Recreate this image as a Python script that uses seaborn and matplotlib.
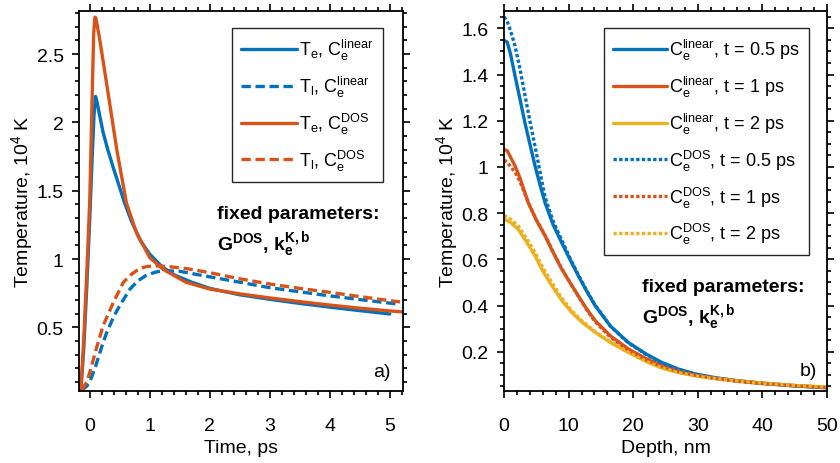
import numpy as np
import pandas as pd
import matplotlib
matplotlib.use("Agg")
import matplotlib.pyplot as plt
from matplotlib.ticker import MultipleLocator
import seaborn as sns

# ---------------- data: panel a) (time, ps ; temperature, 1e4 K) ----------------
t_te_lin = [-0.15, -0.1, -0.05, 0.0, 0.04, 0.07, 0.095, 0.12, 0.16, 0.22, 0.3, 0.39, 0.5, 0.58,
            0.7, 0.85, 1.0, 1.2, 1.4, 1.7, 2.0, 2.5, 3.0, 3.5, 4.0, 4.5, 5.0]
T_te_lin = [0.03, 0.35, 0.8, 1.3, 1.75, 2.05, 2.19, 2.15, 2.06, 1.93, 1.80, 1.67, 1.52, 1.41,
            1.27, 1.13, 1.035, 0.945, 0.885, 0.83, 0.785, 0.738, 0.705, 0.675, 0.648, 0.622, 0.598]

t_tl_lin = [-0.14, -0.05, 0.0, 0.1, 0.2, 0.28, 0.4, 0.5, 0.67, 0.8, 0.94, 1.1, 1.25, 1.5,
            1.89, 2.5, 3.0, 3.5, 4.0, 4.5, 5.1]
T_tl_lin = [0.04, 0.07, 0.1, 0.22, 0.36, 0.46, 0.58, 0.66, 0.78, 0.84, 0.88, 0.905, 0.915, 0.91,
            0.878, 0.83, 0.79, 0.76, 0.73, 0.703, 0.672]

t_te_dos = [-0.15, -0.1, -0.05, 0.0, 0.04, 0.065, 0.085, 0.1, 0.12, 0.16, 0.2, 0.31, 0.45, 0.61,
            0.78, 1.0, 1.22, 1.6, 2.0, 2.5, 3.0, 3.5, 4.0, 4.5, 5.0, 5.2]
T_te_dos = [0.03, 0.42, 0.9, 1.44, 2.2, 2.65, 2.77, 2.765, 2.72, 2.62, 2.51, 2.2, 1.8, 1.41,
            1.19, 1.01, 0.925, 0.83, 0.78, 0.745, 0.715, 0.688, 0.663, 0.64, 0.62, 0.613]

t_tl_dos = [-0.14, -0.05, 0.0, 0.1, 0.22, 0.39, 0.56, 0.7, 0.83, 0.95, 1.11, 1.3, 1.61, 2.0,
            2.5, 3.0, 3.5, 4.0, 4.5, 5.0, 5.2]
T_tl_dos = [0.04, 0.1, 0.17, 0.33, 0.51, 0.68, 0.83, 0.89, 0.93, 0.945, 0.95, 0.945, 0.93, 0.90,
            0.855, 0.817, 0.785, 0.756, 0.725, 0.695, 0.685]

# ---------------- data: panel b) (depth, nm ; temperature, 1e4 K) ----------------
d_lin_05 = [0, 0.5, 1, 1.7, 2.5, 3.25, 4, 4.8, 5.6, 6.35, 7.6, 8.93, 10.2, 11.5, 12.8, 14.1,
            16.5, 19.25, 22, 24.4, 27, 29.6, 33, 36, 40, 45, 50]
T_lin_05 = [1.548, 1.54, 1.49, 1.395, 1.29, 1.19, 1.10, 1.005, 0.92, 0.845, 0.75, 0.672, 0.60,
            0.529, 0.462, 0.40, 0.31, 0.24, 0.19, 0.154, 0.125, 0.104, 0.086, 0.075, 0.064,
            0.053, 0.045]

d_lin_1 = [0, 0.5, 1.7, 2.5, 3.76, 5, 6.35, 7.6, 8.93, 10.2, 11.5, 12.8, 14.1, 16.5, 19.25, 22,
           24.4, 27, 29.6, 33, 36, 40, 45, 50]
T_lin_1 = [1.075, 1.07, 1.005, 0.95, 0.845, 0.77, 0.702, 0.63, 0.558, 0.50, 0.442, 0.385, 0.335,
           0.268, 0.212, 0.17, 0.14, 0.118, 0.1, 0.085, 0.074, 0.063, 0.053, 0.045]

d_lin_2 = [0, 1, 2.2, 3.5, 4.8, 6, 7.4, 9, 10.5, 12, 14.1, 16.5, 19.25, 22, 24.4, 27, 29.6, 33,
           36, 40, 45, 50]
T_lin_2 = [0.775, 0.76, 0.73, 0.675, 0.615, 0.55, 0.486, 0.42, 0.37, 0.33, 0.284, 0.24, 0.197,
           0.158, 0.13, 0.11, 0.096, 0.083, 0.074, 0.064, 0.054, 0.047]

d_dos_05 = [0, 0.5, 1, 1.7, 2.5, 3.25, 4, 4.8, 5.6, 6.35, 7.6, 8.93, 10.2, 11.5, 12.8, 14.1,
            16.5, 19.25, 22, 24.4, 27, 29.6, 33, 36, 40, 45, 50]
T_dos_05 = [1.65, 1.63, 1.59, 1.525, 1.42, 1.31, 1.20, 1.09, 0.975, 0.87, 0.765, 0.683, 0.607,
            0.533, 0.465, 0.402, 0.31, 0.238, 0.188, 0.152, 0.123, 0.102, 0.085, 0.074, 0.063,
            0.052, 0.044]

d_dos_1 = [0, 0.5, 1.7, 2.5, 3.76, 5, 6.35, 7.6, 8.93, 10.2, 11.5, 12.8, 14.1, 16.5, 19.25, 22,
           24.4, 27, 29.6, 33, 36, 40, 45, 50]
T_dos_1 = [1.03, 1.02, 0.977, 0.935, 0.845, 0.772, 0.705, 0.633, 0.56, 0.50, 0.44, 0.382, 0.33,
           0.262, 0.207, 0.165, 0.136, 0.115, 0.098, 0.083, 0.072, 0.062, 0.052, 0.044]

d_dos_2 = [0, 1, 2.2, 3.5, 4.8, 6, 7.4, 9, 10.5, 12, 14.1, 16.5, 19.25, 22, 24.4, 27, 29.6, 33,
           36, 40, 45, 50]
T_dos_2 = [0.79, 0.775, 0.745, 0.69, 0.63, 0.565, 0.50, 0.43, 0.378, 0.335, 0.287, 0.242, 0.198,
           0.158, 0.13, 0.11, 0.096, 0.083, 0.074, 0.064, 0.054, 0.047]

legend_a = [r"T$_\mathrm{e}$, C$_\mathrm{e}^\mathrm{linear}$",
            r"T$_\mathrm{l}$, C$_\mathrm{e}^\mathrm{linear}$",
            r"T$_\mathrm{e}$, C$_\mathrm{e}^\mathrm{DOS}$",
            r"T$_\mathrm{l}$, C$_\mathrm{e}^\mathrm{DOS}$"]
legend_b = [r"C$_\mathrm{e}^\mathrm{linear}$, t = 0.5 ps",
            r"C$_\mathrm{e}^\mathrm{linear}$, t = 1 ps",
            r"C$_\mathrm{e}^\mathrm{linear}$, t = 2 ps",
            r"C$_\mathrm{e}^\mathrm{DOS}$, t = 0.5 ps",
            r"C$_\mathrm{e}^\mathrm{DOS}$, t = 1 ps",
            r"C$_\mathrm{e}^\mathrm{DOS}$, t = 2 ps"]

BLUE, ORANGE, YELLOW = "#0072BD", "#D95319", "#EDB120"

sns.set_theme(style="ticks")
plt.rcParams.update({
    "font.family": ["Liberation Sans", "DejaVu Sans"],
    "mathtext.fontset": "custom",
    "mathtext.rm": "Liberation Sans",
    "mathtext.it": "Liberation Sans:italic",
    "mathtext.bf": "Liberation Sans:bold",
    "axes.edgecolor": "#000000",
    "axes.linewidth": 1.3,
    "xtick.color": "#000000",
    "ytick.color": "#000000",
    "text.color": "#000000",
    "axes.labelcolor": "#000000",
})

fig = plt.figure(figsize=(8.4, 4.64), dpi=100)
axA = fig.add_axes([79/840, 1-392/464, 324/840, 380/464])
axB = fig.add_axes([504/840, 1-392/464, 323/840, 380/464])

LW = 2.4
dash = (0, (2.8, 1.4))
dot = (0, (1.0, 0.7))

def line(ax, x, y, color, ls, label):
    df = pd.DataFrame({"x": x, "y": y})
    sns.lineplot(data=df, x="x", y="y", ax=ax, color=color, linestyle=ls, linewidth=LW,
                 label=label, sort=False, estimator=None)

line(axA, t_te_lin, T_te_lin, BLUE, "-", legend_a[0])
line(axA, t_tl_lin, T_tl_lin, BLUE, dash, legend_a[1])
line(axA, t_te_dos, T_te_dos, ORANGE, "-", legend_a[2])
line(axA, t_tl_dos, T_tl_dos, ORANGE, dash, legend_a[3])

line(axB, d_lin_05, T_lin_05, BLUE, "-", legend_b[0])
line(axB, d_lin_1, T_lin_1, ORANGE, "-", legend_b[1])
line(axB, d_lin_2, T_lin_2, YELLOW, "-", legend_b[2])
line(axB, d_dos_05, T_dos_05, BLUE, dot, legend_b[3])
line(axB, d_dos_1, T_dos_1, ORANGE, dot, legend_b[4])
line(axB, d_dos_2, T_dos_2, YELLOW, dot, legend_b[5])

FS = 14
for ax in (axA, axB):
    ax.tick_params(which="both", direction="out", top=True, right=True, labelsize=FS,
                   width=1.2)
    ax.tick_params(which="major", length=5)
    ax.tick_params(which="minor", length=3)
    ax.tick_params(axis="y", which="both", pad=6)
    ax.tick_params(axis="x", which="both", pad=14)
    for s in ax.spines.values():
        s.set_visible(True)
    ax.set_ylabel(r"Temperature, 10$^4$ K", fontsize=FS, labelpad=1)

axA.set_xlim(-0.18, 5.22)
axA.set_ylim(0.034, 2.815)
axA.set_xticks([0, 1, 2, 3, 4, 5])
axA.set_yticks([0.5, 1, 1.5, 2, 2.5])
axA.set_yticklabels(["0.5", "1", "1.5", "2", "2.5"])
axA.xaxis.set_minor_locator(MultipleLocator(0.2))
axA.yaxis.set_minor_locator(MultipleLocator(0.1))
axA.set_xlabel("Time, ps", fontsize=FS, labelpad=3.5)

axB.set_xlim(0, 50)
axB.set_ylim(0.03, 1.675)
axB.set_xticks([0, 10, 20, 30, 40, 50])
axB.set_yticks([0.2, 0.4, 0.6, 0.8, 1.0, 1.2, 1.4, 1.6])
axB.set_yticklabels(["0.2", "0.4", "0.6", "0.8", "1", "1.2", "1.4", "1.6"])
axB.xaxis.set_minor_locator(MultipleLocator(2))
axB.yaxis.set_minor_locator(MultipleLocator(0.05))
axB.set_xlabel("Depth, nm", fontsize=FS, labelpad=3.5)

LFS = 13
legA = axA.legend(loc="upper right", bbox_to_anchor=(0.938, 0.955), borderaxespad=0,
                  fontsize=LFS, handlelength=3.1, handletextpad=0.15, labelspacing=0.65,
                  frameon=True, fancybox=False, framealpha=1, edgecolor="#262626",
                  borderpad=0.5)
legA.get_frame().set_linewidth(1.0)
legB = axB.legend(loc="upper right", bbox_to_anchor=(0.944, 0.955), borderaxespad=0,
                  fontsize=LFS, handlelength=3.0, handletextpad=0.15, labelspacing=0.65,
                  frameon=True, fancybox=False, framealpha=1, edgecolor="#262626",
                  borderpad=0.5)
legB.get_frame().set_linewidth(1.0)

axA.text(0.426, 0.466, "fixed parameters:", transform=axA.transAxes, fontsize=FS,
         fontweight="bold", ha="left", va="center")
axA.text(0.426, 0.387, r"$\mathbf{G^{DOS}}$, $\mathbf{k_e^{K,b}}$", transform=axA.transAxes,
         fontsize=FS, fontweight="bold", ha="left", va="center")
axB.text(0.427, 0.274, "fixed parameters:", transform=axB.transAxes, fontsize=FS,
         fontweight="bold", ha="left", va="center")
axB.text(0.427, 0.197, r"$\mathbf{G^{DOS}}$, $\mathbf{k_e^{K,b}}$", transform=axB.transAxes,
         fontsize=FS, fontweight="bold", ha="left", va="center")

axA.text(0.962, 0.05, "a)", transform=axA.transAxes, fontsize=FS, ha="right", va="center")
axB.text(0.968, 0.053, "b)", transform=axB.transAxes, fontsize=FS, ha="right", va="center")

fig.savefig("out.png", dpi=100)
